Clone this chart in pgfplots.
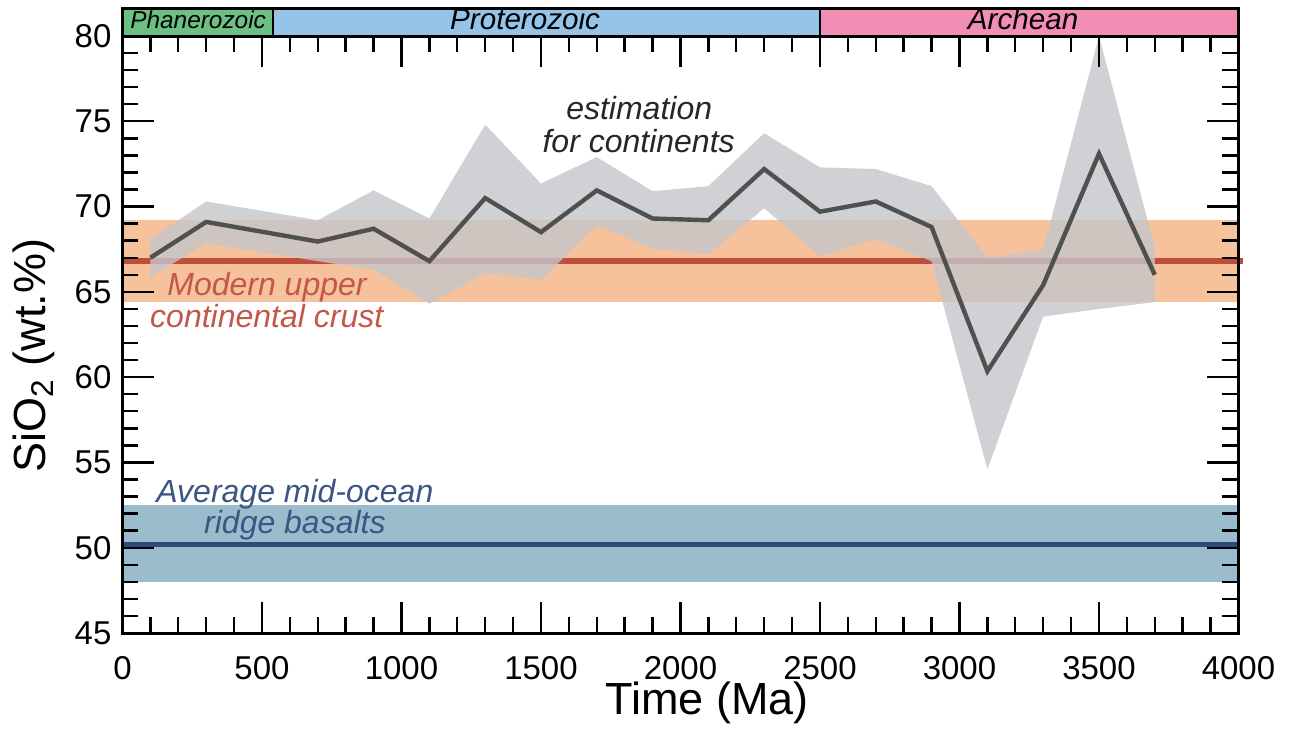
\documentclass[border=0pt]{standalone}
\usepackage{fontspec}
\setmainfont{Liberation Sans}
\usepackage{pgfplots}
\pgfplotsset{compat=1.18}

\definecolor{orangeband}{HTML}{F5C29C}
\definecolor{redline}{HTML}{BF4D3E}
\definecolor{blueband}{HTML}{9BBCCD}
\definecolor{blueline}{HTML}{2E4A7A}
\definecolor{grayband}{HTML}{C5C6CA}
\definecolor{darkline}{HTML}{505050}
\definecolor{redtext}{HTML}{C4574A}
\definecolor{bluetext}{HTML}{3D5585}
\definecolor{phanero}{HTML}{6CC083}
\definecolor{protero}{HTML}{96C4E9}
\definecolor{archean}{HTML}{F28EB6}

\begin{document}
\begin{tikzpicture}
\useasboundingbox (-61.25pt,-48pt) rectangle (589.75pt,316.5pt);
\begin{axis}[
  scale only axis, width=558pt, height=298.5pt,
  xmin=0, xmax=4000, ymin=45, ymax=80,
  xtick={0,500,...,4000}, ytick={45,50,...,80},
  minor x tick num=4, minor y tick num=4,
  tick pos=both, tick align=inside,
  major tick length=15.5pt, minor tick length=8pt,
  axis line style={line width=1.5pt},
  every tick/.style={black, line width=1.2pt},
  tick label style={font=\fontsize{16.5}{18}\selectfont},
  xticklabel style={inner sep=1pt, yshift=-10.5pt},
  yticklabel style={xshift=-2pt},
  /pgf/number format/assume math mode=true,
  /pgf/number format/1000 sep={},
  xlabel={Time (Ma)},
  ylabel={SiO\textsubscript{2} (wt.\%)},
  label style={font=\fontsize{22.5}{26}\selectfont},
  xlabel style={at={(rel axis cs:0.524,0)}, anchor=base, inner sep=0pt, yshift=-40.5pt},
  ylabel style={at={(axis description cs:-0.0686,0.465)}, anchor=base},
  axis on top, clip=false,
]
% Modern upper continental crust
\addplot[draw=none, fill=orangeband] coordinates {(0,64.4) (4000,64.4) (4000,69.2) (0,69.2)} -- cycle;
\addplot[redline, line width=3pt] coordinates {(0,66.8) (4015,66.8)};
% MORB
\addplot[draw=none, fill=blueband] coordinates {(0,48.0) (4000,48.0) (4000,52.5) (0,52.5)} -- cycle;
\addplot[blueline, line width=2.5pt] coordinates {(0,50.2) (4000,50.2)};
% estimation envelope
\addplot[draw=none, fill=grayband, fill opacity=0.8] coordinates {
  (100,68.1) (300,70.3) (700,69.2) (900,70.95) (1100,69.3) (1300,74.8)
  (1500,71.35) (1700,72.9) (1900,70.9) (2100,71.2) (2300,74.3) (2500,72.3)
  (2700,72.2) (2900,71.2) (3100,67.0) (3300,67.45) (3500,80.0) (3700,67.6)
  (3700,64.4) (3500,64.0) (3300,63.55) (3100,54.6) (2900,66.8) (2700,68.1)
  (2500,67.1) (2300,69.9) (2100,67.2) (1900,67.55) (1700,68.9) (1500,65.7)
  (1300,66.1) (1100,64.3) (900,66.3) (700,66.8) (300,67.85) (100,65.86)
} -- cycle;
\addplot[darkline, line width=2.2pt] coordinates {
  (100,67.0) (300,69.1) (700,67.95) (900,68.7) (1100,66.8) (1300,70.5)
  (1500,68.5) (1700,70.95) (1900,69.3) (2100,69.2) (2300,72.2) (2500,69.7)
  (2700,70.3) (2900,68.8) (3100,60.35) (3300,65.4) (3500,73.1) (3700,66.0)
};
% eon bar
\draw[fill=phanero, line width=1pt] (axis cs:0,80) rectangle (axis cs:541,81.61);
\draw[fill=protero, line width=1pt] (axis cs:541,80) rectangle (axis cs:2500,81.61);
\draw[fill=archean, line width=1pt] (axis cs:2500,80) rectangle (axis cs:4000,81.61);
\draw[line width=1.5pt] (axis cs:0,80) rectangle (axis cs:4000,81.61);
\node[anchor=base, font=\fontsize{12.2}{14}\selectfont\itshape] at (axis cs:271,80.42) {Phanerozoic};
\node[anchor=base, font=\fontsize{14.8}{16}\selectfont\itshape] at (axis cs:1443,80.37) {Proterozoic};
\node[anchor=base, font=\fontsize{14.8}{16}\selectfont\itshape] at (axis cs:3228,80.37) {Archean};
% annotations
\node[anchor=base, text=black!85, font=\fontsize{16}{18}\selectfont\itshape] at (axis cs:1852,75.09) {estimation};
\node[anchor=base, text=black!85, font=\fontsize{16}{18}\selectfont\itshape] at (axis cs:1850,73.19) {for continents};
\node[anchor=base, text=redtext, font=\fontsize{16}{18}\selectfont\itshape] at (axis cs:518,64.79) {Modern upper};
\node[anchor=base, text=redtext, font=\fontsize{16}{18}\selectfont\itshape] at (axis cs:517,62.93) {continental crust};
\node[anchor=base, text=bluetext, font=\fontsize{16}{18}\selectfont\itshape] at (axis cs:618,52.67) {Average mid-ocean};
\node[anchor=base, text=bluetext, font=\fontsize{16}{18}\selectfont\itshape] at (axis cs:618,50.82) {ridge basalts};
\end{axis}
\end{tikzpicture}
\end{document}
